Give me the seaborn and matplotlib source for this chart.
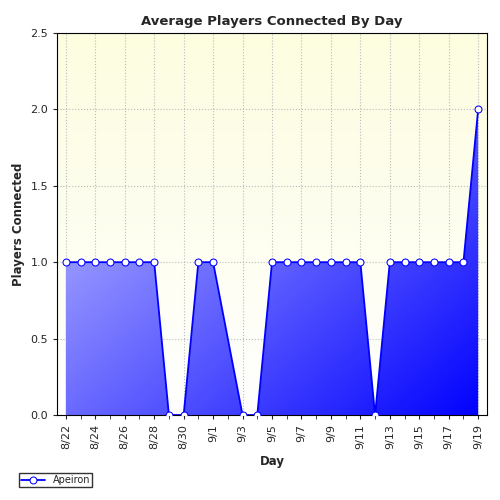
import matplotlib
matplotlib.use("Agg")
import matplotlib.pyplot as plt
import numpy as np
import seaborn as sns
from matplotlib.colors import LinearSegmentedColormap

sns.set_style("white")
plt.rcParams['font.family'] = ['DejaVu Sans']

days = ["8/22","8/23","8/24","8/25","8/26","8/27","8/28","8/29","8/30","8/31","9/1",
        "9/3","9/4","9/5","9/6","9/7","9/8","9/9","9/10","9/11","9/12",
        "9/13","9/14","9/15","9/16","9/17","9/18","9/19"]
day_index = [0,1,2,3,4,5,6,7,8,9,10,12,13,14,15,16,17,18,19,20,21,22,23,24,25,26,27,28]
players = [1,1,1,1,1,1,1,0,0,1,1,0,0,1,1,1,1,1,1,1,0,1,1,1,1,1,1,2]
tick_pos = list(range(0, 29, 2))
tick_labels = ["8/22","8/24","8/26","8/28","8/30","9/1","9/3","9/5","9/7","9/9","9/11","9/13","9/15","9/17","9/19"]

fig = plt.figure(figsize=(5, 5), dpi=100)
ax = fig.add_axes([0.114, 0.17, 0.86, 0.764])
xlim = (-0.6, 28.6); ylim = (0, 2.5)
ax.set_xlim(xlim); ax.set_ylim(ylim)

bg = LinearSegmentedColormap.from_list("bg", ["#ffffff", "#fdfde0"])
grad = np.linspace(0, 1, 256).reshape(-1, 1)
ax.imshow(grad, cmap=bg, extent=[*xlim, *ylim], origin="lower", aspect="auto", zorder=0)

poly = ax.fill_between(day_index, players, 0, color="none", zorder=1)
fg = LinearSegmentedColormap.from_list("fg", ["#d8d8ff", "#0000ff"])
xx, yy = np.meshgrid(np.linspace(0, 1, 200), np.linspace(0, 1, 200))
g = (xx + yy) / 2
im = ax.imshow(g, cmap=fg, extent=[*xlim, *ylim], origin="upper", aspect="auto", zorder=1)
im.set_clip_path(poly.get_paths()[0], transform=ax.transData)

sns.lineplot(x=day_index, y=players, ax=ax, color="#0000ff", lw=1.3, marker="o",
             markersize=5, markerfacecolor="white", markeredgecolor="#0000ff",
             label="Apeiron", zorder=3)

ax.set_xticks(tick_pos)
ax.set_xticklabels(tick_labels, rotation=90, fontsize=8)
ax.set_yticks(np.arange(0, 2.51, 0.5))
ax.set_yticklabels([f"{v:.1f}" for v in np.arange(0, 2.51, 0.5)], fontsize=8)
ax.set_xticks(range(29), minor=True)
ax.grid(True, which="major", linestyle=":", color="#bbbbbb", lw=0.8)
ax.tick_params(axis="both", which="both", direction="out", length=3, left=True, bottom=True)
for s in ax.spines.values():
    s.set_color("black"); s.set_linewidth(0.8)
ax.set_title("Average Players Connected By Day", fontsize=9.5, fontweight="bold")
ax.set_xlabel("Day", fontsize=8.5, fontweight="bold")
ax.set_ylabel("Players Connected", fontsize=8.5, fontweight="bold")
ax.legend(loc="upper left", bbox_to_anchor=(-0.1, -0.14), fontsize=7, frameon=True,
          fancybox=False, edgecolor="black", borderpad=0.2, handlelength=2.5)
fig.savefig("out.png", dpi=100)
